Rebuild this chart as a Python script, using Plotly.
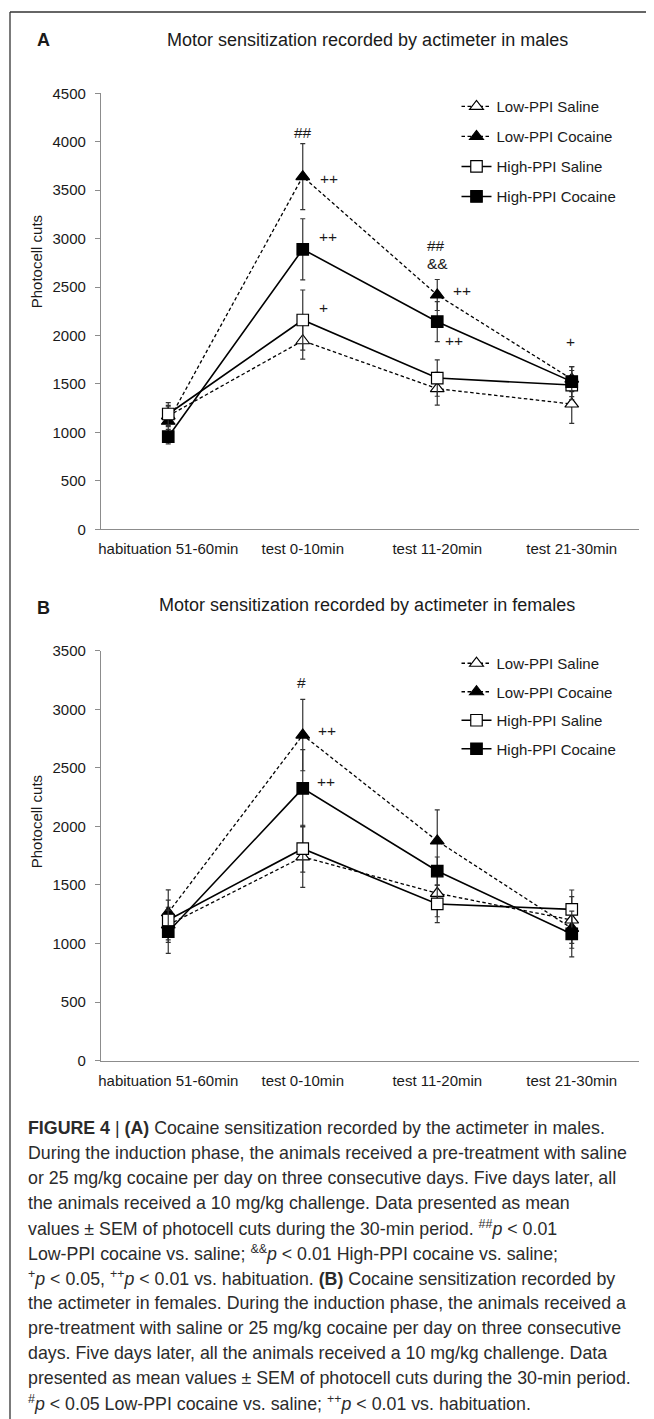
import plotly.graph_objects as go

# The page body has an 8px margin; coordinates below are window pixels.
OFF = 8
FW, FH = 654 - OFF, 1419 - OFF
def px(x): return (x - OFF) / FW
def py(y): return 1 - (y - OFF) / FH

categories = ["habituation 51-60min", "test 0-10min", "test 11-20min", "test 21-30min"]
series_names = ["Low-PPI Saline", "Low-PPI Cocaine", "High-PPI Saline", "High-PPI Cocaine"]

# Panel A (males)
A_low_saline = [1170, 1946, 1451, 1293]
A_low_saline_err = [110, 190, 170, 200]
A_low_cocaine = [1115, 3640, 2418, 1550]
A_low_cocaine_err = [150, 340, 160, 130]
A_high_saline = [1190, 2160, 1561, 1489]
A_high_saline_err = [117, 310, 188, 150]
A_high_cocaine = [956, 2890, 2143, 1524]
A_high_cocaine_err = [75, 315, 207, 154]

# Panel B (females)
B_low_saline = [1160, 1740, 1429, 1201]
B_low_saline_err = [150, 260, 200, 200]
B_low_cocaine = [1263, 2780, 1876, 1130]
B_low_cocaine_err = [195, 305, 265, 170]
B_high_saline = [1201, 1810, 1338, 1292]
B_high_saline_err = [170, 200, 160, 165]
B_high_cocaine = [1101, 2325, 1619, 1082]
B_high_cocaine_err = [185, 330, 120, 195]

A_ticks = [0, 500, 1000, 1500, 2000, 2500, 3000, 3500, 4000, 4500]
B_ticks = [0, 500, 1000, 1500, 2000, 2500, 3000, 3500]

FONT = "Liberation Sans, Arial, sans-serif"
AXC = "#8c8c8c"
TXT = "#1a1a1a"

styles = [
    dict(dash="3.5px,2.5px", width=1.3, symbol="triangle-up", fill="white", size=12),
    dict(dash="3.5px,2.5px", width=1.3, symbol="triangle-up", fill="black", size=12),
    dict(dash="solid", width=1.6, symbol="square", fill="white", size=11.5),
    dict(dash="solid", width=1.6, symbol="square", fill="black", size=11.5),
]

fig = go.Figure()

def add_panel(vals, errs, xa, ya, legend):
    for name, v, e, st in zip(series_names, vals, errs, styles):
        fig.add_trace(go.Scatter(
            x=categories, y=v, name=name, mode="lines+markers",
            xaxis=xa, yaxis=ya, legend=legend, legendgroup=legend + name,
            line=dict(color="black", width=st["width"], dash=st["dash"]),
            marker=dict(symbol=st["symbol"], size=st["size"], color=st["fill"],
                        line=dict(color="black", width=1.2)),
            error_y=dict(type="data", array=e, visible=True, color="#333",
                         thickness=1.2, width=2.5),
        ))

add_panel([A_low_saline, A_low_cocaine, A_high_saline, A_high_cocaine],
          [A_low_saline_err, A_low_cocaine_err, A_high_saline_err, A_high_cocaine_err],
          "x", "y", "legend")
add_panel([B_low_saline, B_low_cocaine, B_high_saline, B_high_cocaine],
          [B_low_saline_err, B_low_cocaine_err, B_high_saline_err, B_high_cocaine_err],
          "x2", "y2", "legend2")

xdom = [px(101), px(639)]
def xaxis_cfg():
    return dict(domain=xdom, type="category", range=[-0.5, 3.5], showline=True,
                linecolor=AXC, linewidth=1.3, ticks="", showgrid=False, zeroline=False,
                automargin=False,
                tickfont=dict(family=FONT, size=15, color=TXT), ticklabelstandoff=6)
def yaxis_cfg(dom, rng, ticks, anchor):
    return dict(domain=dom, range=rng, tickvals=ticks, showline=True, linecolor=AXC,
                linewidth=1.3, ticks="outside", ticklen=5, tickcolor=AXC, tickwidth=1.2,
                showgrid=False, zeroline=False, anchor=anchor, automargin=False,
                tickfont=dict(family=FONT, size=15, color=TXT), ticklabelstandoff=6)

leg_common = dict(xanchor="left", yanchor="top", bgcolor="rgba(0,0,0,0)",
                  font=dict(family=FONT, size=15, color=TXT), itemwidth=30,
                  traceorder="grouped")

fig.update_layout(
    width=FW, height=FH, margin=dict(l=0, r=0, t=0, b=0, autoexpand=False),
    paper_bgcolor="white", plot_bgcolor="white",
    xaxis=dict(**xaxis_cfg(), anchor="y"),
    yaxis=yaxis_cfg([py(529.3), py(93.3)], [0, 4500], A_ticks, "x"),
    xaxis2=dict(**xaxis_cfg(), anchor="y2"),
    yaxis2=yaxis_cfg([py(1060.7), py(650.7)], [0, 3500], B_ticks, "x2"),
    legend=dict(x=px(456.5), y=py(90.2), tracegroupgap=7.5, **leg_common),
    legend2=dict(x=px(456.5), y=py(647), tracegroupgap=6, **leg_common),
    showlegend=True,
)

ann = []
def text(x, y, t, size=15, anchor="center", angle=0, color=TXT):
    ann.append(dict(xref="paper", yref="paper", x=px(x), y=py(y), text=t, showarrow=False,
                    xanchor=anchor, yanchor="middle", textangle=angle,
                    font=dict(family=FONT, size=size, color=color)))

# Panel titles and labels
text(43.7, 40, "<b>A</b>", size=18)
text(367, 40, "Motor sensitization recorded by actimeter in males", size=18)
text(43.7, 608, "<b>B</b>", size=18)
text(367, 605, "Motor sensitization recorded by actimeter in females", size=18)
text(36.3, 262, "Photocell cuts", size=15, angle=-90)
text(36.3, 822, "Photocell cuts", size=15, angle=-90)

# Significance marks (data-referenced)
def sig(xa, ya, cat, val, t, xshift):
    ann.append(dict(xref=xa, yref=ya, x=cat, y=val, text=t, showarrow=False,
                    xshift=xshift, xanchor="center", yanchor="middle",
                    font=dict(family=FONT, size=15.5, color=TXT)))

sig("x", "y", categories[1], 4100, "##", 0)
sig("x", "y", categories[1], 3625, "++", 26)
sig("x", "y", categories[1], 3020, "++", 25)
sig("x", "y", categories[1], 2291, "+", 21)
sig("x", "y", categories[2], 2934, "##", -1)
sig("x", "y", categories[2], 2745, "&amp;&amp;", 0)
sig("x", "y", categories[2], 2460, "++", 25)
sig("x", "y", categories[2], 1946, "++", 17)
sig("x", "y", categories[3], 1936, "+", -1)

sig("x2", "y2", categories[1], 3227, "#", -1)
sig("x2", "y2", categories[1], 2823, "++", 24)
sig("x2", "y2", categories[1], 2382, "++", 23)

# Caption
caption = [
    "<b>FIGURE 4</b> | <b>(A)</b> Cocaine sensitization recorded by the actimeter in males.",
    "During the induction phase, the animals received a pre-treatment with saline",
    "or 25 mg/kg cocaine per day on three consecutive days. Five days later, all",
    "the animals received a 10 mg/kg challenge. Data presented as mean",
    "values ± SEM of photocell cuts during the 30-min period. <sup>##</sup><i>p</i> &lt; 0.01",
    "Low-PPI cocaine vs. saline; <sup>&amp;&amp;</sup><i>p</i> &lt; 0.01 High-PPI cocaine vs. saline;",
    "<sup>+</sup><i>p</i> &lt; 0.05, <sup>++</sup><i>p</i> &lt; 0.01 vs. habituation. <b>(B)</b> Cocaine sensitization recorded by",
    "the actimeter in females. During the induction phase, the animals received a",
    "pre-treatment with saline or 25 mg/kg cocaine per day on three consecutive",
    "days. Five days later, all the animals received a 10 mg/kg challenge. Data",
    "presented as mean values ± SEM of photocell cuts during the 30-min period.",
    "<sup>#</sup><i>p</i> &lt; 0.05 Low-PPI cocaine vs. saline; <sup>++</sup><i>p</i> &lt; 0.01 vs. habituation.",
]
cap_y0, cap_dy = 1128.3, 25.0
for i, line in enumerate(caption):
    text(26, cap_y0 + i * cap_dy, line, size=17.8, anchor="left", color="#2b2b2b")

fig.update_layout(annotations=ann)

# Figure frame
fig.add_shape(type="line", xref="paper", yref="paper", x0=px(10), x1=px(700), y0=py(12), y1=py(12),
              line=dict(color="#333", width=1.3))
fig.add_shape(type="line", xref="paper", yref="paper", x0=px(10), x1=px(10), y0=py(12), y1=py(1500),
              line=dict(color="#333", width=1.3))

fig.write_html("out.html")
